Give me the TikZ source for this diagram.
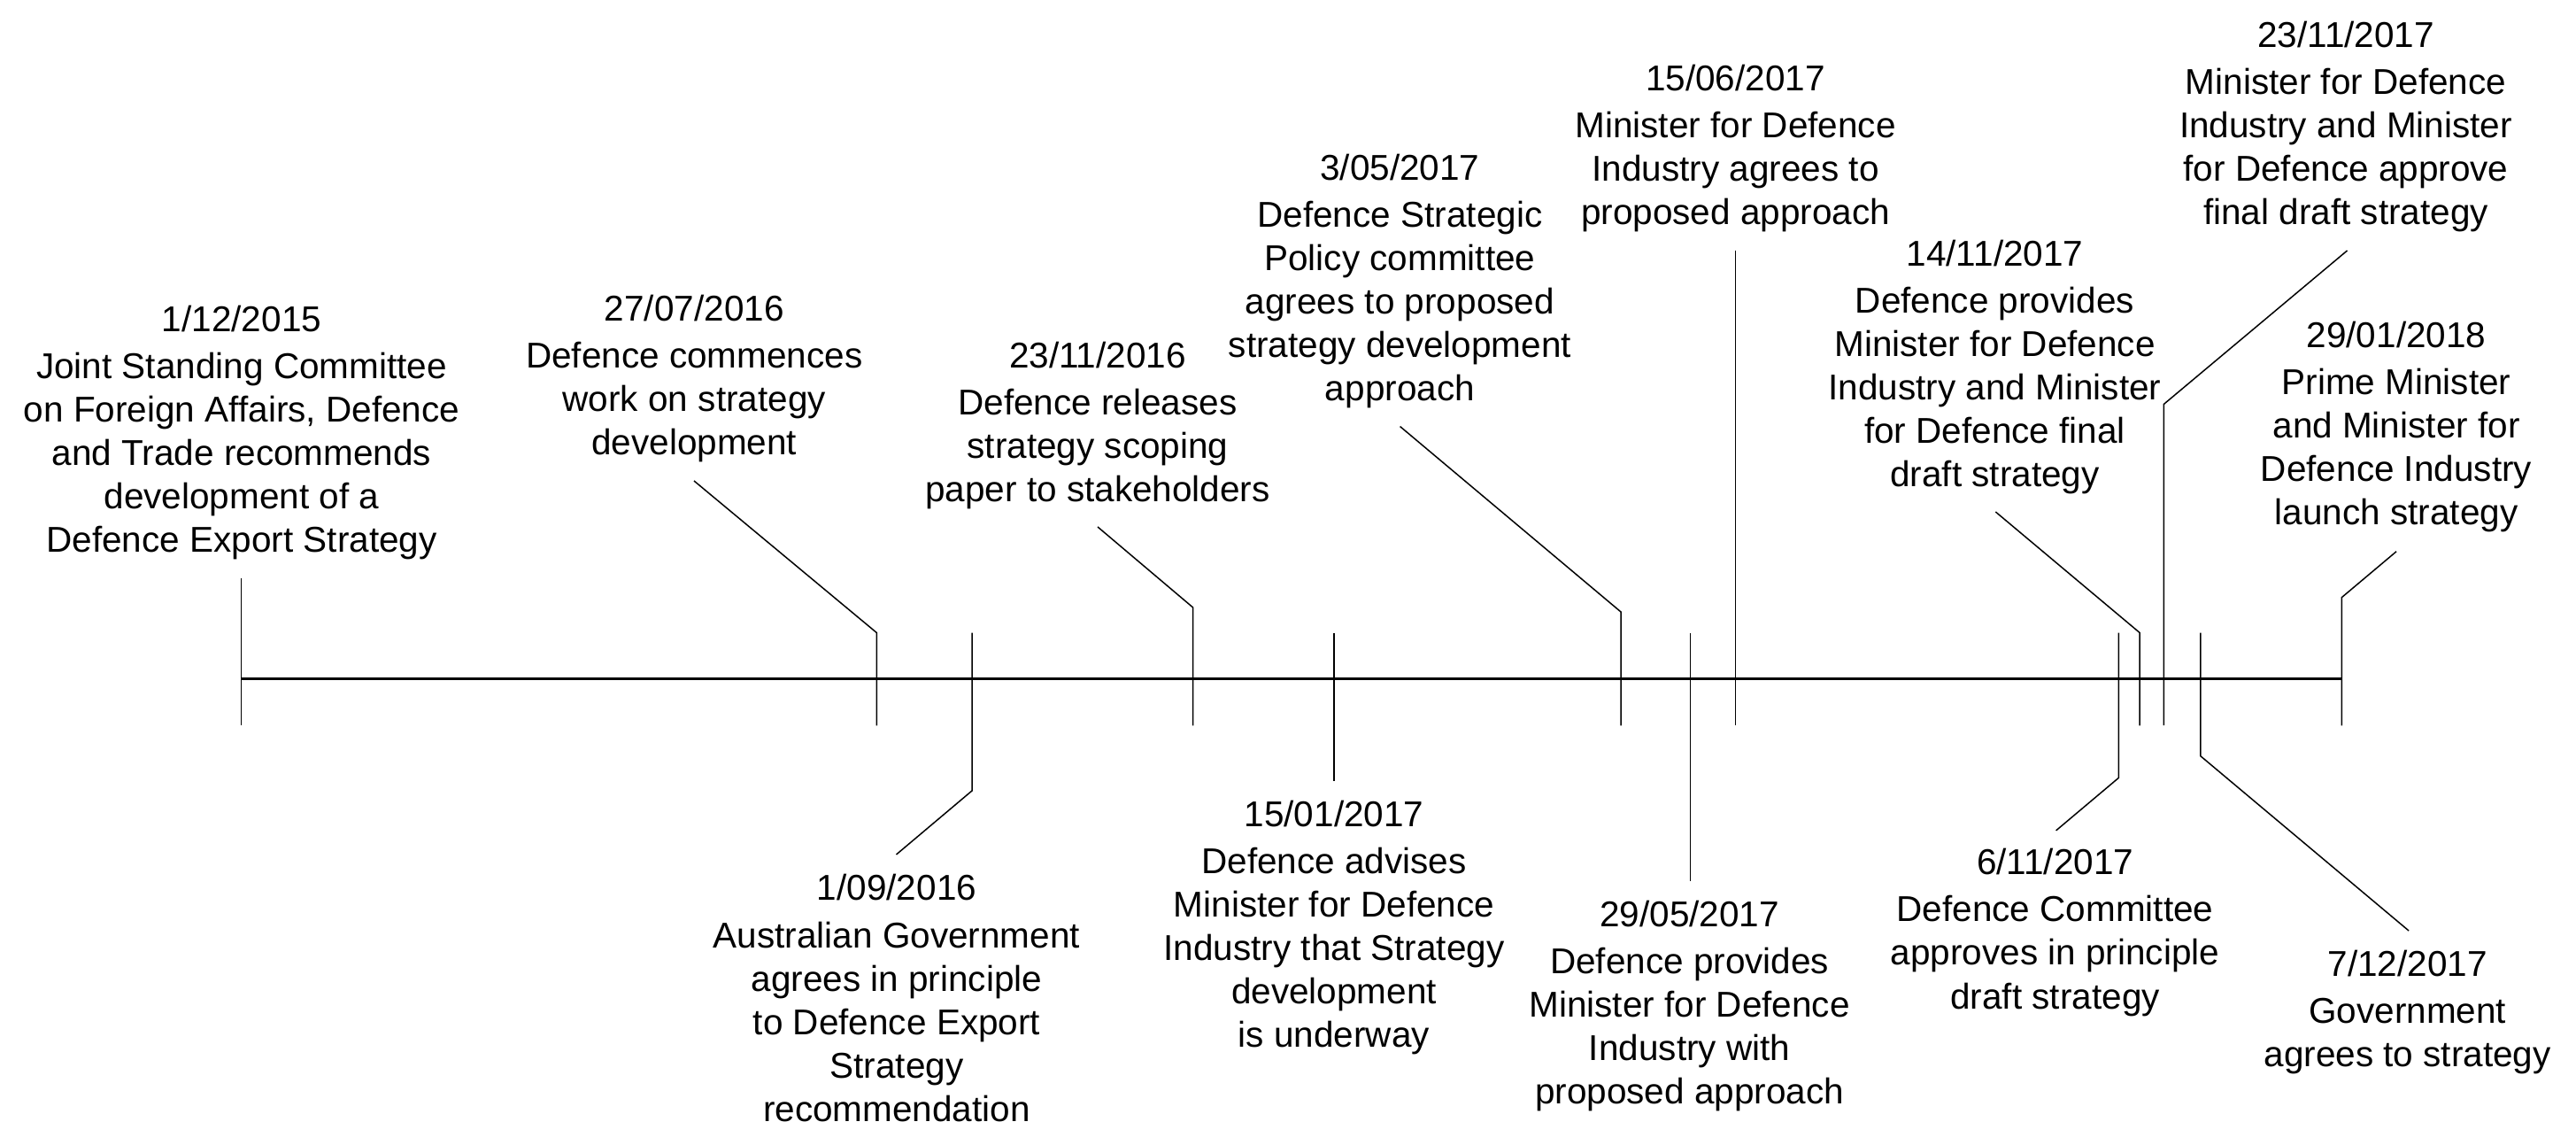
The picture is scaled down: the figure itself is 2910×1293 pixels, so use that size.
\documentclass[tikz,border=0pt]{standalone}
\usepackage{fontspec}
\setmainfont{Liberation Sans}
\begin{document}
\begin{tikzpicture}[x=0.5pt,y=-0.5pt,
  lbl/.style={align=center, anchor=base, inner sep=0pt, font=\fontsize{20.25pt}{24.55pt}\selectfont},
  axisline/.style={line width=1.1pt},
  leader/.style={line width=0.75pt}]
\useasboundingbox (0,0) rectangle (2910,1293);

% axis
\coordinate (axL) at (272.5,766.5);
\coordinate (axR) at (2645.4,766.5);
\draw[axisline] (axL) -- (axR);

% labels (anchor = baseline of the last line)
\node[lbl] (e1) at (273,624) {1/12/2015\\[2pt]Joint Standing Committee\\on Foreign Affairs, Defence\\and Trade recommends\\development of a\\Defence Export Strategy};
\node[lbl] (e2) at (784.3,513.5) {27/07/2016\\[2pt]Defence commences\\work on strategy\\development};
\node[lbl] (e3) at (1013,1266.4) {1/09/2016\\[2pt]Australian Government\\agrees in principle\\to Defence Export\\Strategy\\recommendation};
\node[lbl] (e4) at (1240,566.8) {23/11/2016\\[2pt]Defence releases\\strategy scoping\\paper to stakeholders};
\node[lbl] (e5) at (1507,1182.8) {15/01/2017\\[2pt]Defence advises\\Minister for Defence\\Industry that Strategy\\development\\is underway};
\node[lbl] (e6) at (1581.4,453) {3/05/2017\\[2pt]Defence Strategic\\Policy committee\\agrees to proposed\\strategy development\\approach};
\node[lbl] (e7) at (1908.6,1246.8) {29/05/2017\\[2pt]Defence provides\\Minister for Defence\\Industry with\\proposed approach};
\node[lbl] (e8) at (1960.5,253.8) {15/06/2017\\[2pt]Minister for Defence\\Industry agrees to\\proposed approach};
\node[lbl] (e9) at (2321.6,1139) {6/11/2017\\[2pt]Defence Committee\\approves in principle\\draft strategy};
\node[lbl] (e10) at (2253.5,549.7) {14/11/2017\\[2pt]Defence provides\\Minister for Defence\\Industry and Minister\\for Defence final\\draft strategy};
\node[lbl] (e11) at (2650,253.6) {23/11/2017\\[2pt]Minister for Defence\\Industry and Minister\\for Defence approve\\final draft strategy};
\node[lbl] (e12) at (2719.6,1204.2) {7/12/2017\\[2pt]Government\\agrees to strategy};
\node[lbl] (e13) at (2707,592.6) {29/01/2018\\[2pt]Prime Minister\\and Minister for\\Defence Industry\\launch strategy};

% leader coordinates
\coordinate (t1a) at (272.5,653);   \coordinate (t1b) at (272.5,819.4);
\coordinate (t2a) at (784,543);     \coordinate (t2b) at (990.3,714.5);  \coordinate (t2c) at (990.3,819.4);
\coordinate (t3a) at (1012.5,965);  \coordinate (t3b) at (1098.2,892.8); \coordinate (t3c) at (1098.2,714.5);
\coordinate (t4a) at (1240,595);    \coordinate (t4b) at (1347.6,686);   \coordinate (t4c) at (1347.6,819.4);
\coordinate (t5a) at (1507.2,714.5); \coordinate (t5b) at (1507.2,881.7);
\coordinate (t6a) at (1581.6,481.6); \coordinate (t6b) at (1831,691);    \coordinate (t6c) at (1831,819.4);
\coordinate (t7a) at (1909.5,714.5); \coordinate (t7b) at (1909.5,994.5);
\coordinate (t8a) at (1960.5,283);   \coordinate (t8b) at (1960.5,819.4);
\coordinate (t9a) at (2322.6,937.9); \coordinate (t9b) at (2393.3,878.4); \coordinate (t9c) at (2393.3,714.5);
\coordinate (t10a) at (2254.3,578);  \coordinate (t10b) at (2417.1,714.5); \coordinate (t10c) at (2417.1,819.4);
\coordinate (t11a) at (2651.5,283);  \coordinate (t11b) at (2444.3,456.5); \coordinate (t11c) at (2444.3,819);
\coordinate (t12a) at (2721,1051);   \coordinate (t12b) at (2485.9,853.8); \coordinate (t12c) at (2485.9,714.5);
\coordinate (t13a) at (2707,622.8);  \coordinate (t13b) at (2645.4,674.6); \coordinate (t13c) at (2645.4,819.4);

\draw[leader] (t1a) -- (t1b);
\draw[leader] (t2a) -- (t2b) -- (t2c);
\draw[leader] (t3a) -- (t3b) -- (t3c);
\draw[leader] (t4a) -- (t4b) -- (t4c);
\draw[leader] (t5a) -- (t5b);
\draw[leader] (t6a) -- (t6b) -- (t6c);
\draw[leader] (t7a) -- (t7b);
\draw[leader] (t8a) -- (t8b);
\draw[leader] (t9a) -- (t9b) -- (t9c);
\draw[leader] (t10a) -- (t10b) -- (t10c);
\draw[leader] (t11a) -- (t11b) -- (t11c);
\draw[leader] (t12a) -- (t12b) -- (t12c);
\draw[leader] (t13a) -- (t13b) -- (t13c);
\end{tikzpicture}
\end{document}
